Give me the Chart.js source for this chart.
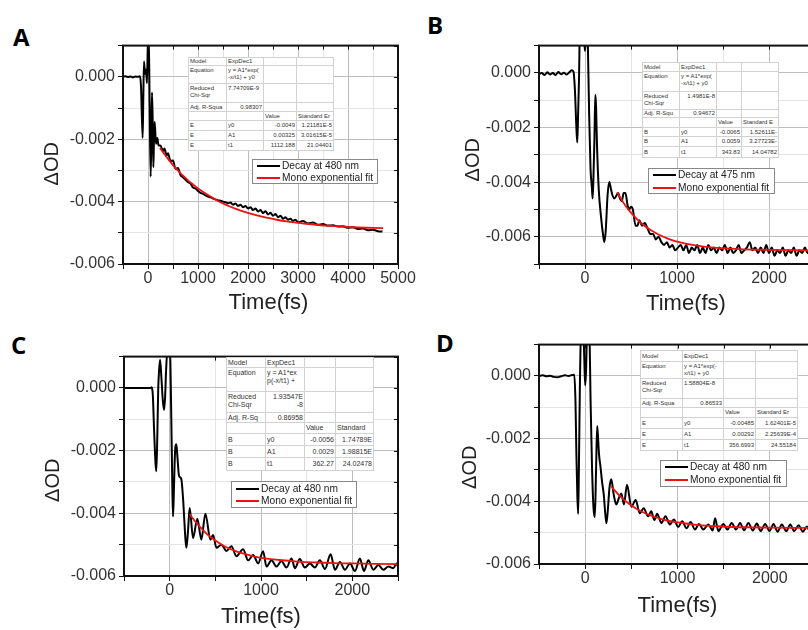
<!DOCTYPE html>
<html>
<head>
<meta charset="utf-8">
<script src="https://cdn.jsdelivr.net/npm/chart.js@4.4.1/dist/chart.umd.min.js"></script>
<style>
  html, body { margin: 0; padding: 0; background: #fff; }
  body { width: 808px; height: 630px; overflow: hidden; position: relative; font-family: "Liberation Sans", Arial, sans-serif; }
  canvas { position: absolute; }
  .tag { position: absolute; font-family: "Open Sans", sans-serif; font-weight: 700; font-size: 24px; line-height: 1; color: #000; }
  .fit { position: absolute; border-collapse: collapse; table-layout: fixed; background: #fff; border: 1px solid #777; color: #333; }
  .fit td { border: 1px solid #d2d2d2; padding: 0 1px; overflow: hidden; white-space: nowrap; vertical-align: middle; }
  .fit td.num { text-align: right; }
  .fit tr.top td { vertical-align: top; padding-top: 1px; }
  .leg { position: absolute; background: #fff; border: 1px solid #888; font-size: 10.2px; color: #222; }
  .leg span { position: absolute; white-space: nowrap; line-height: 12px; }
  .leg i { position: absolute; height: 2px; }
</style>
</head>
<body>
<script>
// Decay traces, [time (fs), ΔOD]
const decayA = [
  [-500, 0], [-450, 0.00002], [-400, -0.00001], [-350, 0.00001], [-300, -0.00002], [-250, 0.00001],
  [-200, 0], [-160, 0.00002], [-140, -0.0003], [-107, -0.00196], [-95, -0.0008], [-80, 0.00049],
  [-60, 0.0001], [-40, 0.00023], [-20, -0.0002], [0, 0.0013], [15, 0.0013], [30, -0.0005],
  [53, -0.0032], [68, -0.0018], [80, -0.0005], [95, -0.0015], [107, -0.0029], [120, -0.002],
  [133, -0.00144], [160, -0.00215], [187, -0.00196], [210, -0.0022], [250, -0.0022], [300, -0.00238],
  [330, -0.0023], [370, -0.00252], [400, -0.00245], [450, -0.0027], [500, -0.00268], [550, -0.00295],
  [600, -0.00292], [650, -0.00315], [700, -0.00322], [750, -0.0033], [800, -0.00338], [850, -0.00342],
  [900, -0.00355], [950, -0.00358], [1000, -0.00366], [1050, -0.00372], [1100, -0.00375], [1150, -0.0038],
  [1200, -0.00384], [1250, -0.00386], [1300, -0.0039], [1350, -0.00393], [1400, -0.00396], [1450, -0.00397],
  [1500, -0.004], [1550, -0.00402], [1600, -0.00405], [1650, -0.00403], [1700, -0.0041], [1750, -0.00406],
  [1800, -0.00414], [1850, -0.0041], [1900, -0.00418], [1950, -0.00414], [2000, -0.00422], [2050, -0.00418],
  [2100, -0.00427], [2150, -0.00422], [2200, -0.00432], [2250, -0.00427], [2300, -0.00437], [2350, -0.00431],
  [2400, -0.00441], [2450, -0.00436], [2500, -0.00445], [2550, -0.0044], [2600, -0.0045], [2650, -0.00445],
  [2700, -0.00455], [2750, -0.0045], [2800, -0.00458], [2850, -0.00455], [2900, -0.00462], [2950, -0.00458],
  [3000, -0.00466], [3100, -0.00462], [3200, -0.0047], [3300, -0.00467], [3400, -0.00474], [3500, -0.00472],
  [3600, -0.00477], [3700, -0.00476], [3800, -0.0048], [3900, -0.00479], [4000, -0.00484], [4100, -0.00482],
  [4200, -0.00488], [4300, -0.00486], [4400, -0.00492], [4500, -0.0049], [4600, -0.00495], [4690, -0.00496]
];
const decayB = [
  [-500, -0.00005], [-470, 0], [-440, -0.00008], [-410, 0.00002], [-380, -0.00006], [-350, 0],
  [-320, -0.00008], [-290, 0.00003], [-260, -0.00005], [-230, 0.00001], [-200, -0.00006], [-170, 0.00002],
  [-145, 0.0001], [-125, 0.00005], [-110, -0.0006], [-95, -0.0019], [-84, -0.00255], [-75, -0.0015],
  [-65, -0.0002], [-55, 0.0018], [-30, 0.0022], [-8, 0.0012], [0, 0.0008], [8, 0.0012], [18, 0.0022],
  [30, 0.0012], [45, -0.0015], [60, -0.0035], [75, -0.0042], [83, -0.0046], [92, -0.0038], [102, -0.0025],
  [112, -0.0008], [120, -0.0012], [130, -0.0026], [150, -0.0043], [175, -0.0053], [195, -0.0059],
  [210, -0.0062], [225, -0.0058], [245, -0.0045], [264, -0.004], [285, -0.0043], [300, -0.0045],
  [320, -0.0046], [340, -0.0045], [360, -0.0044], [380, -0.0046], [400, -0.0047], [420, -0.0044],
  [440, -0.0044], [460, -0.0048], [480, -0.005], [500, -0.0049], [520, -0.005], [550, -0.0056],
  [570, -0.0056], [590, -0.0054], [620, -0.0056], [650, -0.0055], [680, -0.0057], [710, -0.0059],
  [740, -0.0059], [770, -0.0061], [800, -0.006], [830, -0.0062], [860, -0.0063], [890, -0.0062],
  [920, -0.0064], [950, -0.0063], [980, -0.0065], [1010, -0.0064], [1040, -0.0063], [1070, -0.0065],
  [1100, -0.0063], [1130, -0.0066], [1160, -0.0064], [1190, -0.0065], [1220, -0.0063], [1250, -0.0066],
  [1280, -0.0064], [1310, -0.0066], [1340, -0.0063], [1370, -0.0065], [1400, -0.0064], [1430, -0.0066],
  [1460, -0.0064], [1490, -0.0065], [1520, -0.0063], [1550, -0.0066], [1580, -0.0064], [1610, -0.0066],
  [1640, -0.0065], [1670, -0.0063], [1700, -0.0066], [1730, -0.0065], [1760, -0.0064], [1790, -0.0062],
  [1820, -0.0065], [1850, -0.0064], [1880, -0.0066], [1910, -0.0064], [1940, -0.0066], [1970, -0.0063],
  [2000, -0.0066], [2030, -0.0064], [2060, -0.0067], [2090, -0.0065], [2120, -0.0066], [2150, -0.0064],
  [2180, -0.0067], [2210, -0.0065], [2240, -0.0066], [2270, -0.0064], [2300, -0.0067], [2330, -0.0065],
  [2360, -0.0066], [2390, -0.0064], [2420, -0.0066], [2450, -0.0065], [2480, -0.0066], [2500, -0.0065]
];
const decayC = [
  [-500, 0], [-400, 0], [-300, 0], [-210, 0], [-200, 0.00002], [-185, -0.0002], [-170, -0.0014],
  [-155, -0.0024], [-146, -0.00266], [-135, -0.0015], [-125, 0], [-117, 0.0005], [-105, 0.0009],
  [-90, 0.0003], [-75, -0.0004], [-62, -0.0007], [-50, -0.0003], [-40, 0.0005], [-25, 0.0012],
  [0, 0.0012], [8, 0.0008], [18, -0.001], [30, -0.0033], [37, -0.0041], [47, -0.0032], [58, -0.0021],
  [73, -0.0018], [85, -0.0022], [102, -0.0028], [127, -0.0029], [146, -0.0035], [160, -0.0042],
  [172, -0.0048], [183, -0.0051], [200, -0.0046], [219, -0.00383], [256, -0.00479], [303, -0.00417],
  [347, -0.00484], [391, -0.00401], [446, -0.00484], [475, -0.00469], [512, -0.0051], [567, -0.005],
  [621, -0.0052], [676, -0.00505], [731, -0.00537], [804, -0.00515], [859, -0.0055], [914, -0.00533],
  [969, -0.0056], [1023, -0.00521], [1060, -0.0057], [1115, -0.0055], [1170, -0.0057], [1224, -0.00552],
  [1279, -0.00573], [1334, -0.00544], [1371, -0.00575], [1425, -0.00546], [1480, -0.00573], [1535, -0.0056],
  [1590, -0.00573], [1645, -0.0055], [1700, -0.00578], [1762, -0.00531], [1810, -0.0058], [1864, -0.00555],
  [1919, -0.0058], [1974, -0.0056], [2029, -0.00584], [2083, -0.00544], [2127, -0.00584], [2175, -0.0055],
  [2230, -0.0058], [2285, -0.00565], [2339, -0.0058], [2394, -0.0057], [2449, -0.00575], [2485, -0.0056],
  [2500, -0.0057]
];
const decayD = [
  [-500, 0], [-460, 0.00002], [-420, -0.00001], [-380, 0.00001], [-340, -0.00003], [-300, -0.00004],
  [-260, -0.00001], [-220, 0.00002], [-180, 0], [-140, 0.00003], [-118, 0.00004], [-105, -0.0008],
  [-95, -0.0025], [-85, -0.0038], [-76, -0.0044], [-68, -0.003], [-58, -0.0005], [-45, 0.0015],
  [-25, 0.002], [-10, 0.0006], [0, -0.0003], [10, 0.0002], [25, 0.002], [45, 0.0015], [60, -0.001],
  [75, -0.003], [90, -0.0042], [105, -0.0045], [118, -0.003], [130, -0.0016], [140, -0.002],
  [150, -0.0025], [166, -0.0029], [184, -0.0034], [202, -0.0038], [215, -0.0043], [230, -0.0047],
  [245, -0.0043], [262, -0.0036], [282, -0.0033], [310, -0.0038], [337, -0.0041], [365, -0.0039],
  [391, -0.00375], [420, -0.0041], [453, -0.00347], [500, -0.00417], [547, -0.00396], [591, -0.00438],
  [634, -0.00422], [681, -0.00448], [715, -0.00432], [750, -0.0046], [779, -0.0044], [826, -0.00469],
  [870, -0.00448], [917, -0.00474], [960, -0.00458], [1008, -0.00482], [1051, -0.00464], [1098, -0.00486],
  [1142, -0.00466], [1189, -0.0049], [1232, -0.00472], [1280, -0.0049], [1334, -0.00474], [1381, -0.00493],
  [1407, -0.00454], [1442, -0.00495], [1497, -0.00472], [1540, -0.0049], [1587, -0.00469], [1634, -0.0049],
  [1678, -0.00469], [1721, -0.00492], [1768, -0.00469], [1815, -0.00493], [1859, -0.00471], [1902, -0.00495],
  [1949, -0.00472], [1996, -0.00495], [2040, -0.00472], [2083, -0.00497], [2130, -0.00474], [2178, -0.00495],
  [2221, -0.00474], [2264, -0.00495], [2311, -0.00476], [2358, -0.00497], [2402, -0.0048], [2430, -0.00495],
  [2460, -0.00478], [2500, -0.00495]
];

// Mono exponential fit curves, [time (fs), ΔOD]
const fitA = [
  [240, -0.00228], [300, -0.00242], [400, -0.00263], [500, -0.00283], [600, -0.00301], [700, -0.00317],
  [800, -0.00332], [900, -0.00345], [1000, -0.00358], [1200, -0.00379], [1400, -0.00398], [1600, -0.00413],
  [1800, -0.00426], [2000, -0.00436], [2200, -0.00445], [2400, -0.00452], [2600, -0.00459], [2800, -0.00464],
  [3000, -0.00468], [3400, -0.00475], [3800, -0.00479], [4200, -0.00483], [4700, -0.00485]
];
const fitB = [
  [350, -0.00437], [400, -0.00466], [450, -0.00491], [500, -0.00512], [600, -0.00547], [700, -0.00573],
  [800, -0.00592], [900, -0.00607], [1000, -0.00618], [1200, -0.00632], [1400, -0.0064], [1600, -0.00644],
  [1800, -0.00647], [2000, -0.00648], [2500, -0.0065]
];
const fitC = [
  [219, -0.00402], [250, -0.00415], [300, -0.00433], [400, -0.00464], [500, -0.00487], [600, -0.00505],
  [700, -0.00518], [800, -0.00528], [900, -0.00536], [1000, -0.00542], [1200, -0.00549], [1400, -0.00554],
  [1600, -0.00557], [1800, -0.00559], [2000, -0.0056], [2500, -0.00562]
];
const fitD = [
  [282, -0.00352], [300, -0.00359], [400, -0.0039], [500, -0.00413], [600, -0.00431], [700, -0.00444],
  [800, -0.00454], [900, -0.00462], [1000, -0.00467], [1200, -0.00475], [1400, -0.00479], [1600, -0.00482],
  [1800, -0.00483], [2000, -0.00484], [2500, -0.00485]
];

// Legend labels
const decayLabels = ['Decay at 480 nm', 'Decay at 475 nm', 'Decay at 480 nm', 'Decay at 480 nm'];
const fitLabel = 'Mono exponential fit';

// Fit result tables
const paramsA = [['E', 'y0', '-0.0049', '1.21181E-5'], ['E', 'A1', '0.00325', '3.01615E-5'], ['E', 't1', '1112.188', '21.04401']];
const paramsB = [['B', 'y0', '-0.0065', '1.52611E-'], ['B', 'A1', '0.0059', '3.27723E-'], ['B', 't1', '343.83', '14.04782']];
const paramsC = [['B', 'y0', '-0.0056', '1.74789E'], ['B', 'A1', '0.0029', '1.98815E'], ['B', 't1', '362.27', '24.02478']];
const paramsD = [['E', 'y0', '-0.00485', '1.62401E-5'], ['E', 'A1', '0.00292', '2.25639E-4'], ['E', 't1', '356.6993', '24.55184']];

const RED = '#ee1111';
const FONT = '"Liberation Sans", Arial, sans-serif';
const YW = 83, XH = 54, PADT = 8, PADR = 25;

// draws the closed box, mirrored inner ticks and the axis titles
const framePlugin = {
  id: 'frame',
  afterDraw(chart, args, o) {
    const { ctx, chartArea: a, scales: { x, y } } = chart;
    ctx.save();
    ctx.strokeStyle = '#111';
    ctx.lineWidth = 1;
    ctx.beginPath();
    x.ticks.forEach(t => {
      const px = Math.round(x.getPixelForValue(t.value)) + 0.5;
      ctx.moveTo(px, a.top); ctx.lineTo(px, a.top + 4);
    });
    y.ticks.forEach(t => {
      const py = Math.round(y.getPixelForValue(t.value)) + 0.5;
      ctx.moveTo(a.right, py); ctx.lineTo(a.right - 4, py);
    });
    ctx.stroke();
    ctx.lineWidth = 2;
    ctx.strokeRect(a.left, a.top, a.width, a.height);

    ctx.fillStyle = '#222';
    ctx.textAlign = 'center';
    ctx.textBaseline = 'middle';
    ctx.font = '22px ' + FONT;
    ctx.fillText('Time(fs)', (a.left + a.right) / 2 + o.xdx, a.bottom + o.xdy);
    ctx.translate(a.left - o.ydx, (a.top + a.bottom) / 2 + o.ydy);
    ctx.rotate(-Math.PI / 2);
    ctx.font = '20px ' + FONT;
    ctx.fillText('\u0394OD', 0, 0);
    ctx.restore();
  }
};

function drawPanel(p) {
  const w = p.right - p.left + YW + PADR;
  const h = p.bottom - p.top + PADT + XH;
  const cv = document.createElement('canvas');
  cv.width = w; cv.height = h;
  cv.style.left = (p.left - YW) + 'px';
  cv.style.top = (p.top - PADT) + 'px';
  cv.style.width = w + 'px';
  cv.style.height = h + 'px';
  document.body.appendChild(cv);

  const tickFont = { size: 16, family: FONT };
  new Chart(cv, {
    type: 'line',
    data: {
      datasets: [
        {
          label: fitLabel,
          data: p.fit.map(([x, y]) => ({ x, y })),
          borderColor: RED, borderWidth: 1.8, pointRadius: 0, tension: 0.4, order: 0
        },
        {
          label: p.decayLabel,
          data: p.decay.map(([x, y]) => ({ x, y })),
          borderColor: '#000', borderWidth: 2, pointRadius: 0,
          cubicInterpolationMode: 'monotone', order: 1
        }
      ]
    },
    options: {
      responsive: false,
      animation: false,
      events: [],
      layout: { padding: { left: 0, top: PADT, right: PADR, bottom: 0 } },
      plugins: {
        legend: { display: false },
        tooltip: { enabled: false },
        frame: p.titles
      },
      scales: {
        x: {
          type: 'linear', min: -500, max: p.xMax,
          afterFit: s => { s.height = XH; },
          border: { display: false },
          grid: {
            color: c => (c.tick && c.tick.value % 1000 === 0) ? '#bdbdbd' : '#e4e4e4',
            tickColor: '#111', tickLength: 5
          },
          ticks: {
            stepSize: 500, autoSkip: false, maxRotation: 0, padding: 0,
            color: '#333', font: tickFont,
            callback: v => v % 1000 === 0 ? String(v) : ''
          }
        },
        y: {
          min: p.yMin, max: 0.001,
          afterFit: s => { s.width = YW; },
          border: { display: false },
          grid: {
            color: c => (c.tick && Math.round(c.tick.value * 1000) % 2 === 0) ? '#bdbdbd' : '#e4e4e4',
            tickColor: '#111', tickLength: 5
          },
          ticks: {
            stepSize: 0.001, autoSkip: false, padding: 3,
            color: '#333', font: tickFont,
            callback: v => {
              const k = Math.round(v * 1000);
              if (k % 2 !== 0) return '';
              return k === 0 ? '0.000' : (k / 1000).toFixed(3);
            }
          }
        }
      }
    },
    plugins: [framePlugin]
  });
}

function fitTable(t, box) {
  const rows = [
    ['Model', t.model, '', ''],
    ['Equation', t.equation.join('<br>'), '', ''],
    ['Reduced<br>Chi-Sqr', t.chi.join('<br>'), '', ''],
    [t.adjLabel, t.adj, '', ''],
    ['', '', 'Value', t.errHead],
    ...t.params
  ];
  const tb = document.createElement('table');
  tb.className = 'fit';
  tb.style.left = box.left + 'px';
  tb.style.top = box.top + 'px';
  tb.style.width = box.cols.reduce((s, c) => s + c, 0) + 'px';
  tb.style.fontSize = box.font + 'px';
  tb.style.lineHeight = (box.font + 0.6) + 'px';
  let html = '<colgroup>' + box.cols.map(c => `<col style="width:${c}px">`).join('') + '</colgroup>';
  rows.forEach((r, i) => {
    const cls = (i === 1 || i === 2) ? ' class="top"' : '';
    html += `<tr${cls} style="height:${box.rows[i]}px">`;
    r.forEach((c, j) => {
      const num = (i >= 5 && j >= 2) || (i === 3 && j === 1) || (i === 2 && j === 1 && t.chiRight);
      html += `<td${num ? ' class="num"' : ''}>${c}</td>`;
    });
    html += '</tr>';
  });
  tb.innerHTML = html;
  document.body.appendChild(tb);
}

function legendBox(l, decayLabel) {
  const d = document.createElement('div');
  d.className = 'leg';
  d.style.left = l.left + 'px';
  d.style.top = l.top + 'px';
  d.style.width = l.width + 'px';
  d.style.height = l.height + 'px';
  [[decayLabel, '#000', l.r1], [fitLabel, RED, l.r2]].forEach(([txt, col, r]) => {
    d.innerHTML += `<i style="left:4px;width:23px;top:${r - 1}px;background:${col}"></i>` +
      `<span style="left:29px;top:${r - 6}px">${txt}</span>`;
  });
  document.body.appendChild(d);
}

function tag(letter, left, top) {
  const d = document.createElement('div');
  d.className = 'tag';
  d.textContent = letter;
  d.style.left = left + 'px';
  d.style.top = top + 'px';
  document.body.appendChild(d);
}

drawPanel({ left: 123, top: 41, right: 398, bottom: 264, xMax: 5000, yMin: -0.006,
  decay: decayA, fit: fitA, decayLabel: decayLabels[0],
  titles: { xdx: 8, xdy: 39, ydx: 71, ydy: 9 } });
drawPanel({ left: 539, top: 41, right: 815, bottom: 264, xMax: 2500, yMin: -0.007,
  decay: decayB, fit: fitB, decayLabel: decayLabels[1],
  titles: { xdx: 9, xdy: 40, ydx: 66, ydy: 5 } });
drawPanel({ left: 124, top: 352, right: 398, bottom: 576, xMax: 2500, yMin: -0.006,
  decay: decayC, fit: fitC, decayLabel: decayLabels[2],
  titles: { xdx: 0, xdy: 41, ydx: 71, ydy: 14 } });
drawPanel({ left: 539, top: 340, right: 816, bottom: 564, xMax: 2500, yMin: -0.006,
  decay: decayD, fit: fitD, decayLabel: decayLabels[3],
  titles: { xdx: 0, xdy: 42, ydx: 69, ydy: 13 } });

fitTable({ model: 'ExpDec1', equation: ['y = A1*exp(', '-x/t1) + y0'], chi: ['7.74709E-9'], chiRight: false,
  adjLabel: 'Adj. R-Squa', adj: '0.98307', errHead: 'Standard Er', params: paramsA },
  { left: 188, top: 57, font: 6, cols: [38, 37, 33, 37], rows: [8, 18, 19, 9, 9, 10, 10, 10] });
fitTable({ model: 'ExpDec1', equation: ['y = A1*exp(', '-x/t1) + y0'], chi: ['1.4981E-8'], chiRight: true,
  adjLabel: 'Adj. R-Squ', adj: '0.94672', errHead: 'Standard E', params: paramsB },
  { left: 642, top: 62, font: 6, cols: [37, 37, 25, 37], rows: [9, 20, 18, 8, 10, 9, 10, 11] });
fitTable({ model: 'ExpDec1', equation: ['y = A1*ex', 'p(-x/t1) +'], chi: ['1.93547E', '-8'], chiRight: true,
  adjLabel: 'Adj. R-Sq', adj: '0.86958', errHead: 'Standard', params: paramsC },
  { left: 226, top: 357, font: 7, cols: [39, 39, 31, 38], rows: [10, 24, 21, 10, 11, 12, 12, 13] });
fitTable({ model: 'ExpDec1', equation: ['y = A1*exp(-', 'x/t1) + y0'], chi: ['1.58804E-8'], chiRight: false,
  adjLabel: 'Adj. R-Squa', adj: '0.86533', errHead: 'Standard Er', params: paramsD },
  { left: 640, top: 350, font: 6, cols: [42, 41, 32, 42], rows: [11, 17, 20, 9, 10, 11, 11, 11] });

legendBox({ left: 252, top: 159, width: 124, height: 23, r1: 6, r2: 18 }, decayLabels[0]);
legendBox({ left: 648, top: 168, width: 125, height: 24, r1: 6, r2: 19 }, decayLabels[1]);
legendBox({ left: 231, top: 481, width: 124, height: 25, r1: 7, r2: 19 }, decayLabels[2]);
legendBox({ left: 660, top: 460, width: 125, height: 25, r1: 6, r2: 19 }, decayLabels[3]);

tag('A', 13, 25);
tag('B', 427, 13);
tag('C', 11, 333);
tag('D', 436, 331);
</script>
</body>
</html>
